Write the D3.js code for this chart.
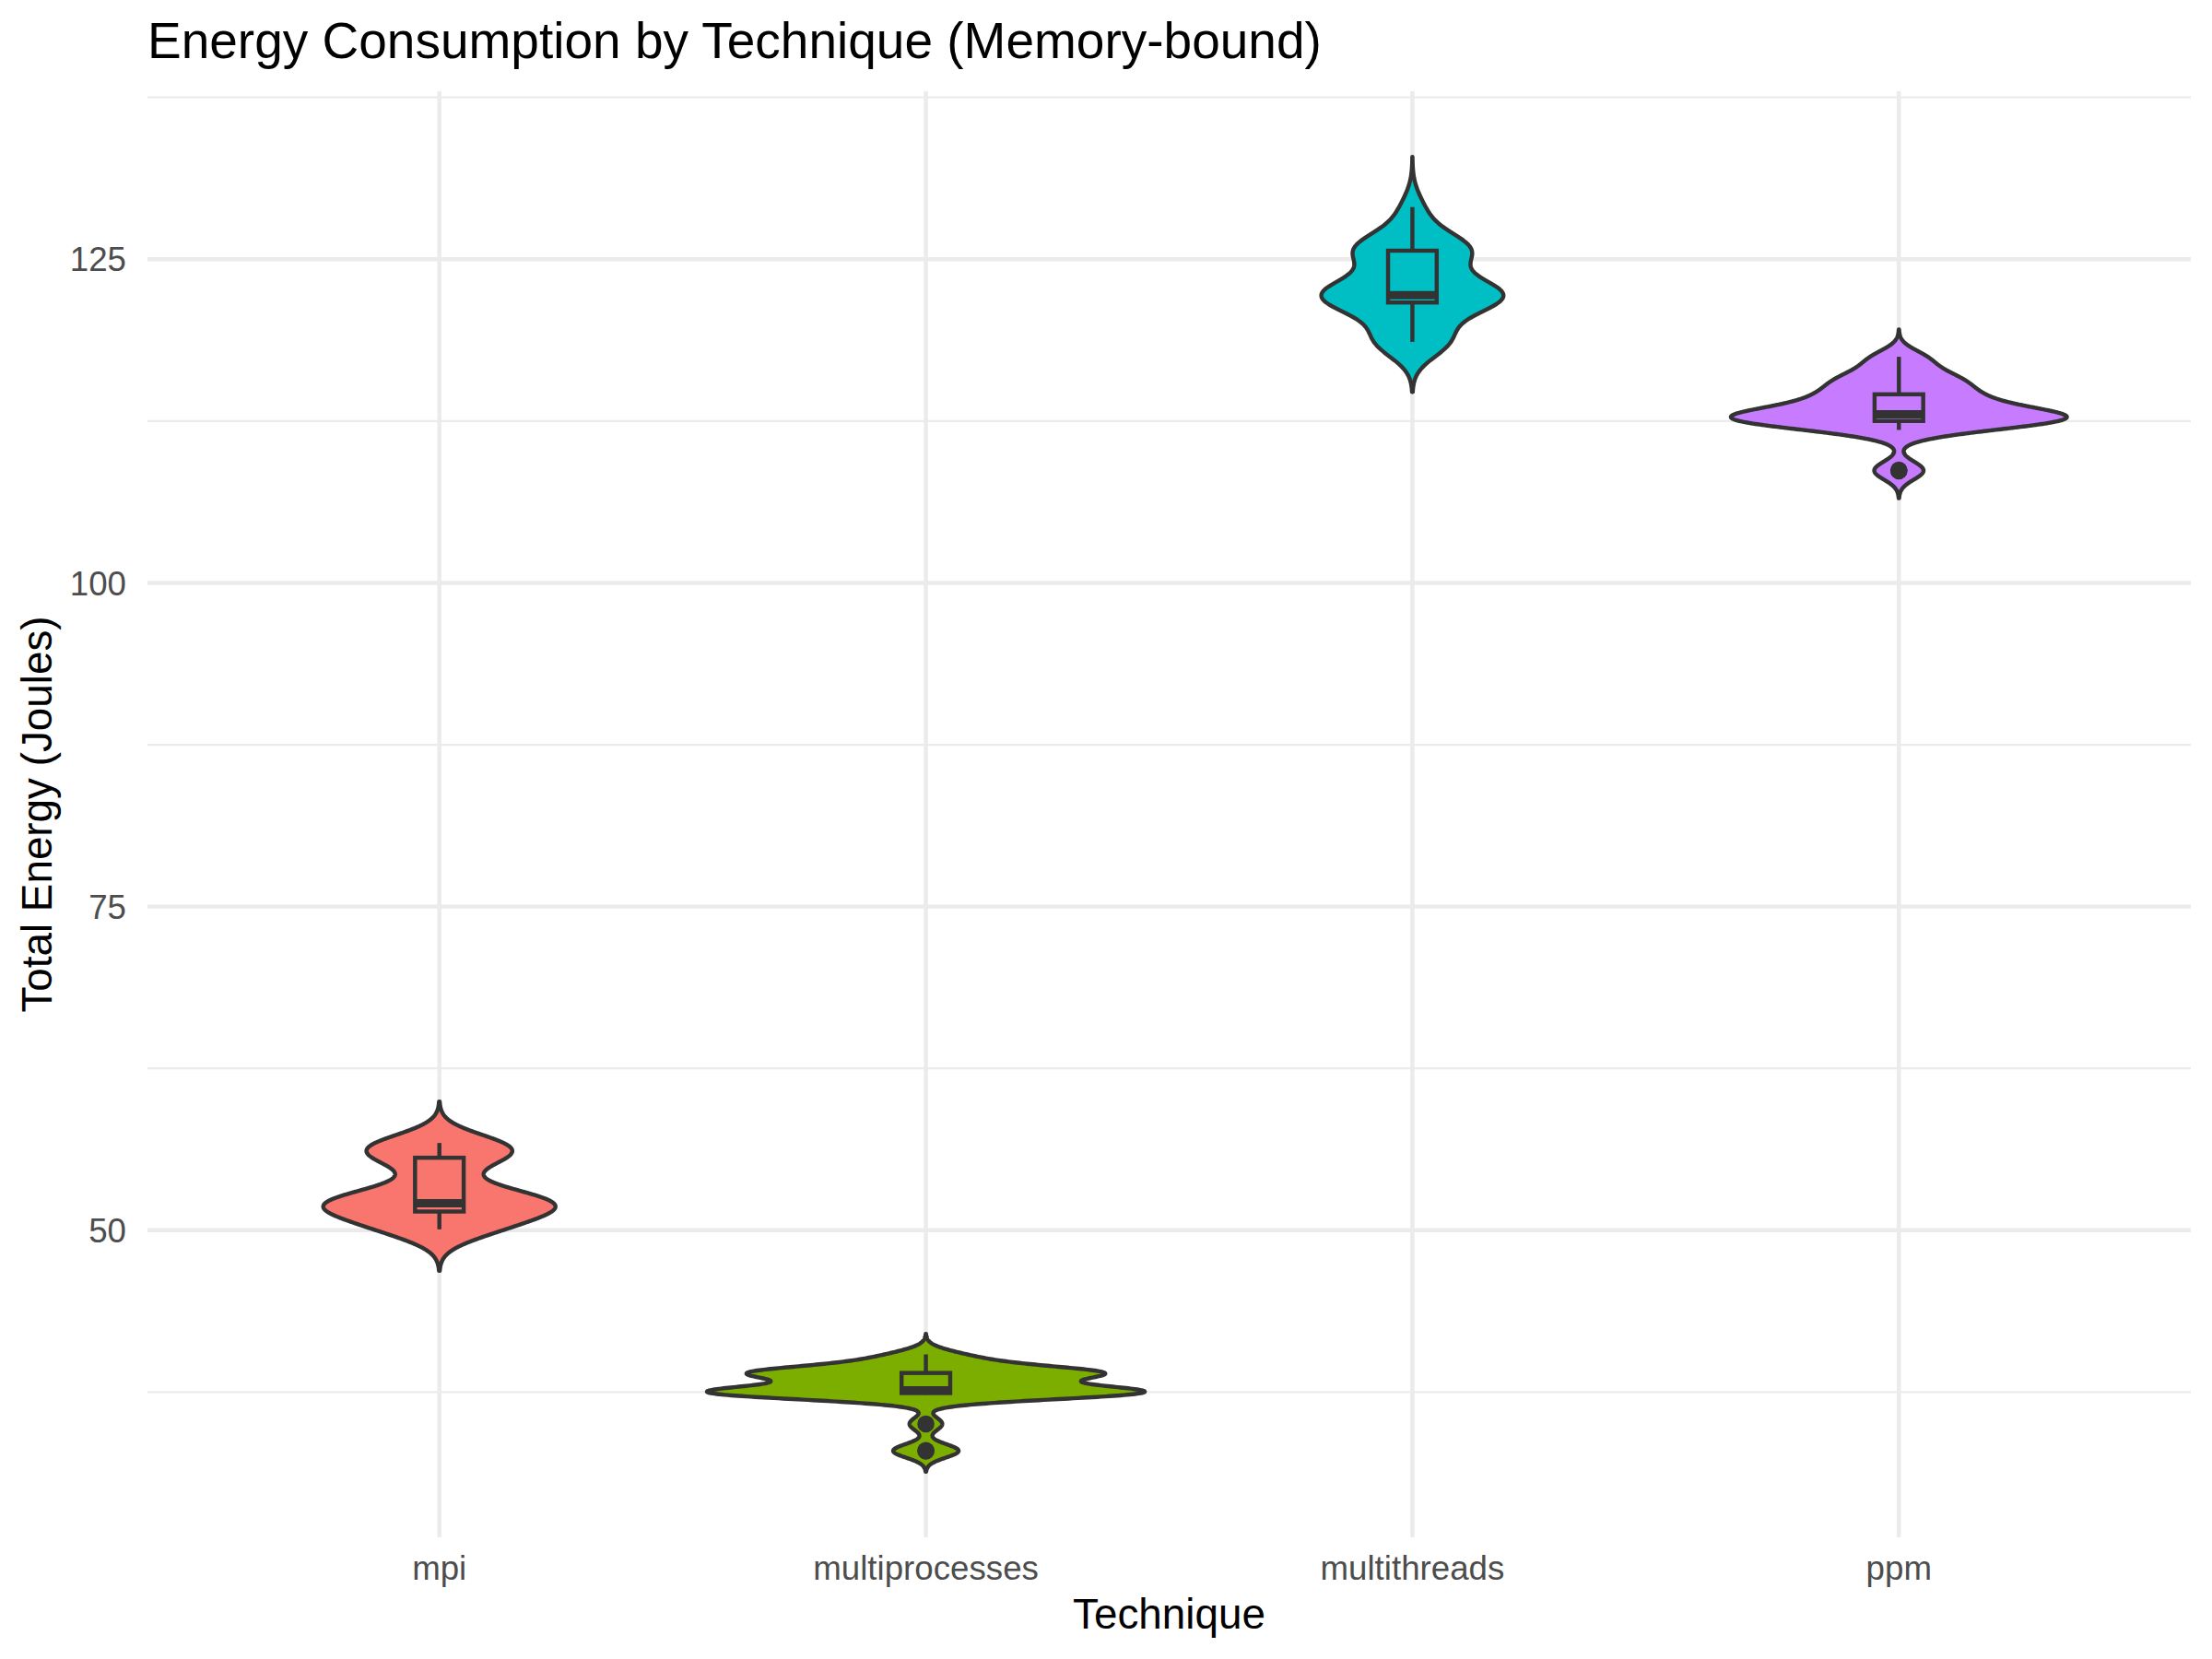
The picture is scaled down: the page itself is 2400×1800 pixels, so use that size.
<!DOCTYPE html>
<html><head><meta charset="utf-8">
<script src="https://cdn.jsdelivr.net/npm/d3@7"></script>
<style>body{margin:0;background:#fff} svg{display:block}</style>
</head><body>
<svg id="chart" width="2400" height="1800"></svg>
<script>
// ---------------- data ----------------
const categories = ["mpi", "multiprocesses", "multithreads", "ppm"];
const fillColors = ["#F8766D", "#7CAE00", "#00BFC4", "#C77CFF"];
const mpiEnergy = [50.07, 50.09, 50.11, 50.14, 50.18, 51.37, 51.40, 51.42, 51.52, 52.00, 52.02, 52.04, 52.06, 52.07, 52.08, 52.10, 52.47, 52.70, 53.04, 53.52, 55.27, 55.42, 55.66, 55.73, 56.27, 56.46, 56.51, 56.55, 56.64, 56.74];
const multiprocessesEnergy = [32.94, 32.98, 35.04, 37.30, 37.33, 37.35, 37.38, 37.42, 37.43, 37.44, 37.46, 37.59, 37.60, 37.61, 37.62, 37.64, 38.15, 38.86, 38.89, 38.92, 38.94, 38.96, 38.98, 39.00, 39.01, 39.03, 39.05, 39.88, 39.95, 40.41];
const multithreadsEnergy = [118.62, 118.64, 118.65, 118.67, 118.70, 120.78, 120.86, 121.60, 121.84, 122.05, 122.07, 122.16, 122.18, 122.20, 122.21, 122.25, 122.76, 122.81, 122.95, 123.36, 125.52, 125.56, 125.70, 125.76, 125.79, 125.81, 125.83, 125.86, 127.92, 129.03];
const ppmEnergy = [108.65, 108.71, 111.82, 111.84, 111.99, 112.43, 112.47, 112.48, 112.60, 112.69, 112.72, 112.93, 112.95, 112.98, 113.00, 113.06, 113.37, 113.65, 113.77, 114.12, 114.40, 114.54, 114.58, 115.31, 115.44, 115.50, 116.14, 116.20, 117.22, 117.47];
const yMajorTicks = [50, 75, 100, 125];
const yMinorTicks = [37.5, 62.5, 87.5, 112.5, 137.5];
const titleText = "Energy Consumption by Technique (Memory-bound)";
const xTitle = "Technique";
const yTitle = "Total Energy (Joules)";

const groups = categories.map((c, i) => ({
  name: c, color: fillColors[i],
  values: [mpiEnergy, multiprocessesEnergy, multithreadsEnergy, ppmEnergy][i]
}));

// ---------------- layout ----------------
const FONT = "'Liberation Sans', Arial, Helvetica, sans-serif";
const panel = {left: 160, right: 2377, top: 99, bottom: 1668};
const svg = d3.select("#chart");
svg.append("rect").attr("width", 2400).attr("height", 1800).attr("fill", "#fff");

// ---------------- statistics (ggplot2-like violin + boxplot) ----------------
const SQ2PI = Math.sqrt(2 * Math.PI);
function bwNrd0(v) {
  const s = d3.deviation(v);
  const sorted = v.slice().sort(d3.ascending);
  const iqr = d3.quantileSorted(sorted, 0.75) - d3.quantileSorted(sorted, 0.25);
  let lo = Math.min(s, iqr / 1.34);
  if (!(lo > 0)) lo = s || 1;
  return 0.9 * lo * Math.pow(v.length, -0.2);
}
groups.forEach(g => {
  const xs = g.values.slice().sort(d3.ascending);
  g.bw = bwNrd0(xs);
  const n = xs.length;
  const from = xs[0] - 3 * g.bw, to = xs[n - 1] + 3 * g.bw;
  g.dens = d3.range(512).map(k => {
    const yv = from + (to - from) * k / 511;
    let s = 0;
    for (const xi of xs) { const u = (yv - xi) / g.bw; s += Math.exp(-0.5 * u * u); }
    return {y: yv, d: s / (n * g.bw * SQ2PI)};
  });
  g.q1 = d3.quantileSorted(xs, 0.25);
  g.med = d3.quantileSorted(xs, 0.5);
  g.q3 = d3.quantileSorted(xs, 0.75);
  const iqr = g.q3 - g.q1;
  const inside = xs.filter(v => v >= g.q1 - 1.5 * iqr && v <= g.q3 + 1.5 * iqr);
  g.lo = d3.min(inside); g.hi = d3.max(inside);
  g.outliers = xs.filter(v => v < g.q1 - 1.5 * iqr || v > g.q3 + 1.5 * iqr);
});
const maxDens = d3.max(groups, g => d3.max(g.dens, p => p.d));

// ---------------- scales ----------------
const yLo = d3.min(groups, g => g.dens[0].y), yHi = d3.max(groups, g => g.dens[511].y);
const ySpan = yHi - yLo;
const y = d3.scaleLinear().domain([yLo - 0.05 * ySpan, yHi + 0.05 * ySpan]).range([panel.bottom, panel.top]);
const x = d3.scalePoint().domain(categories).range([panel.left, panel.right]).padding(0.6);
const step = x.step();
const violinHalf = 0.45 * step;
const boxHalf = 0.05 * step;

// ---------------- grid ----------------
const grid = svg.append("g");
grid.selectAll(".minor").data(yMinorTicks).join("line")
  .attr("x1", panel.left).attr("x2", panel.right)
  .attr("y1", d => y(d)).attr("y2", d => y(d))
  .attr("stroke", "#EBEBEB").attr("stroke-width", 2.22);
grid.selectAll(".major").data(yMajorTicks).join("line")
  .attr("x1", panel.left).attr("x2", panel.right)
  .attr("y1", d => y(d)).attr("y2", d => y(d))
  .attr("stroke", "#EBEBEB").attr("stroke-width", 4.44);
grid.selectAll(".vmajor").data(categories).join("line")
  .attr("x1", d => x(d)).attr("x2", d => x(d))
  .attr("y1", panel.top).attr("y2", panel.bottom)
  .attr("stroke", "#EBEBEB").attr("stroke-width", 4.44);

// ---------------- violins ----------------
const area = d3.area()
  .y(p => y(p.y))
  .x0(p => -p.d / maxDens * violinHalf)
  .x1(p => p.d / maxDens * violinHalf);
svg.append("g").selectAll("path").data(groups).join("path")
  .attr("transform", g => `translate(${x(g.name)},0)`)
  .attr("d", g => area(g.dens))
  .attr("fill", g => g.color)
  .attr("stroke", "#333333").attr("stroke-width", 4.44).attr("stroke-linejoin", "round");

// ---------------- boxplots ----------------
const boxes = svg.append("g").selectAll("g").data(groups).join("g")
  .attr("transform", g => `translate(${x(g.name)},0)`);
boxes.append("line").attr("x1", 0).attr("x2", 0).attr("y1", g => y(g.q3)).attr("y2", g => y(g.hi))
  .attr("stroke", "#333333").attr("stroke-width", 4.44);
boxes.append("line").attr("x1", 0).attr("x2", 0).attr("y1", g => y(g.q1)).attr("y2", g => y(g.lo))
  .attr("stroke", "#333333").attr("stroke-width", 4.44);
boxes.append("rect").attr("x", -boxHalf).attr("width", 2 * boxHalf)
  .attr("y", g => y(g.q3)).attr("height", g => y(g.q1) - y(g.q3))
  .attr("fill", g => g.color).attr("stroke", "#333333").attr("stroke-width", 4.44);
boxes.append("line").attr("x1", -boxHalf).attr("x2", boxHalf)
  .attr("y1", g => y(g.med)).attr("y2", g => y(g.med))
  .attr("stroke", "#333333").attr("stroke-width", 8.88);
boxes.selectAll("circle").data(g => g.outliers).join("circle")
  .attr("cx", 0).attr("cy", v => y(v)).attr("r", 9.3).attr("fill", "#333333");

// ---------------- text ----------------
svg.append("g").selectAll("text").data(yMajorTicks).join("text")
  .attr("x", 137).attr("y", d => y(d)).attr("dy", "0.358em")
  .attr("text-anchor", "end").attr("font-family", FONT).attr("font-size", 36.7).attr("fill", "#4D4D4D")
  .text(d => d);
svg.append("g").selectAll("text").data(categories).join("text")
  .attr("x", d => x(d)).attr("y", 1714)
  .attr("text-anchor", "middle").attr("font-family", FONT).attr("font-size", 36.7).attr("fill", "#4D4D4D")
  .text(d => d);
svg.append("text").attr("x", (panel.left + panel.right) / 2).attr("y", 1767)
  .attr("text-anchor", "middle").attr("font-family", FONT).attr("font-size", 45.8).attr("fill", "#000")
  .text(xTitle);
svg.append("text").attr("transform", `translate(55.5,${(panel.top + panel.bottom) / 2}) rotate(-90)`)
  .attr("text-anchor", "middle").attr("font-family", FONT).attr("font-size", 45.8).attr("fill", "#000")
  .text(yTitle);
svg.append("text").attr("x", 160).attr("y", 63)
  .attr("font-family", FONT).attr("font-size", 55).attr("fill", "#000")
  .text(titleText);
</script>
</body></html>
